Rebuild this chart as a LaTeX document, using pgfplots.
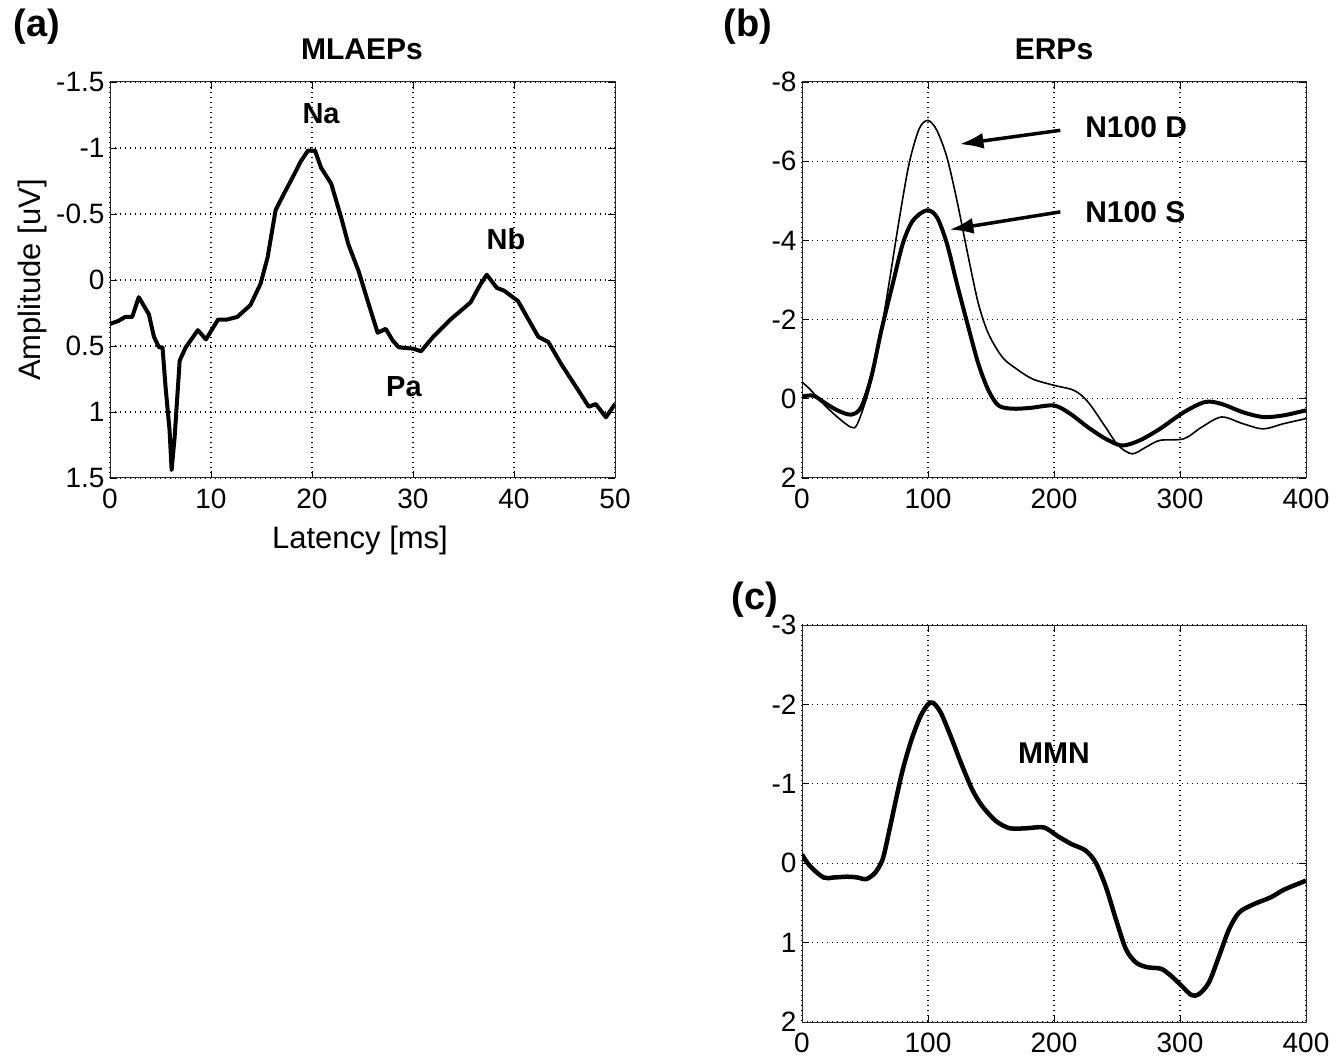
\documentclass[border=0pt]{standalone}
\usepackage{fontspec}
\setmainfont{Liberation Sans}
\usepackage{pgfplots}
\pgfplotsset{compat=1.18}
\usetikzlibrary{arrows.meta}
\pgfplotsset{
  mstyle/.style={
    scale only axis, anchor=south west,
    axis line style={line width=1pt, black!85},
    tick align=inside, tick pos=both,
    major tick length=7pt,
    tick style={line width=0.8pt, black},
    grid=major,
    major grid style={line width=1.1pt, black, dash pattern=on 1.3pt off 3.7pt},
    ticklabel style={font=\fontsize{28}{28}\selectfont},
    xticklabel style={yshift=-7pt},
    yticklabel style={xshift=-2pt},
    /pgf/number format/assume math mode=true,
    y dir=reverse,
    clip=true,
  }
}
\begin{document}
\begin{tikzpicture}[x=1pt,y=1pt]
\useasboundingbox (0,0) rectangle (1341,1059);

% ---------------- (a) ----------------
\begin{axis}[mstyle, at={(110pt,581pt)}, width=505pt, height=396pt,
  xmin=0, xmax=50, ymin=-1.5, ymax=1.5,
  xtick={0,10,20,30,40,50},
  ytick={-1.5,-1,-0.5,0,0.5,1,1.5},
  yticklabels={-1.5,-1,-0.5,0,0.5,1,1.5}]
\addplot[black, line width=4pt, line join=round] coordinates {
(0,0.333)(0.84,0.31)(1.5,0.28)(2.2,0.28)(2.85,0.13)(3.85,0.26)(4.35,0.43)(4.85,0.51)(5.2,0.51)
(5.5,0.81)(5.9,1.14)(6.1,1.44)(6.4,1.19)(6.9,0.61)(7.5,0.51)(8.7,0.38)(9.5,0.45)(10.7,0.30)
(11.55,0.30)(12.6,0.28)(13.9,0.19)(14.9,0.03)(15.6,-0.17)(16.4,-0.53)(17.2,-0.65)(18.1,-0.78)
(18.9,-0.90)(19.6,-0.98)(20.3,-0.98)(20.9,-0.85)(21.9,-0.73)(22.9,-0.47)(23.6,-0.27)(24.6,-0.07)
(25.6,0.18)(26.5,0.40)(27.3,0.37)(28.0,0.46)(28.6,0.51)(30.0,0.52)(30.8,0.54)(32.0,0.43)
(33.7,0.30)(35.7,0.17)(36.7,0.03)(37.3,-0.04)(38.3,0.06)(39.0,0.08)(40.4,0.16)(42.4,0.43)
(43.4,0.47)(44.7,0.64)(46.4,0.84)(47.4,0.96)(48.1,0.94)(49.1,1.04)(50,0.94)
};
\node[font=\bfseries\fontsize{29}{29}\selectfont] at (axis cs:20.9,-1.26) {Na};
\node[font=\bfseries\fontsize{29}{29}\selectfont] at (axis cs:39.2,-0.31) {Nb};
\node[font=\bfseries\fontsize{29}{29}\selectfont] at (axis cs:29.1,0.81) {Pa};
\end{axis}

% ---------------- (b) ----------------
\begin{axis}[mstyle, at={(802pt,581pt)}, width=504pt, height=396pt,
  xmin=0, xmax=400, ymin=-8, ymax=2,
  xtick={0,100,200,300,400},
  ytick={-8,-6,-4,-2,0,2}]
\addplot[black, line width=1.6pt, smooth, tension=0.5] coordinates {
(0,-0.42)(6,-0.25)(17,0.13)(28,0.46)(39,0.72)(44,0.63)(53,-0.21)(61,-1.39)(69,-2.9)(77,-4.5)
(85,-5.94)(93,-6.82)(100,-7.03)(107,-6.78)(115,-6.1)(123,-5.0)(132,-3.58)(140,-2.4)(148,-1.64)
(159,-1.05)(170,-0.76)(183,-0.5)(200,-0.34)(216,-0.21)(227,0.08)(241,0.72)(251,1.18)(262,1.39)
(273,1.22)(284,1.05)(303,1.01)(317,0.72)(333,0.46)(350,0.63)(366,0.76)(382,0.63)(400,0.5)
};
\addplot[black, line width=4pt, smooth, tension=0.5] coordinates {
(0,-0.06)(9,-0.08)(17,0.08)(28,0.29)(39,0.4)(47,0.21)(55,-0.55)(63,-1.73)(72,-2.9)(80,-3.92)
(88,-4.5)(99,-4.76)(107,-4.59)(115,-3.92)(123,-2.9)(132,-1.81)(140,-0.88)(148,-0.21)(156,0.17)
(167,0.25)(181,0.23)(200,0.17)(213,0.38)(227,0.72)(241,1.01)(254,1.18)(268,1.05)(284,0.76)
(303,0.34)(320,0.08)(333,0.13)(350,0.34)(366,0.46)(382,0.42)(400,0.29)
};
\draw[line width=3.5pt, -{Latex[length=24pt,width=16pt]}] (axis cs:205,-6.78) -- (axis cs:125,-6.43);
\draw[line width=3.5pt, -{Latex[length=24pt,width=16pt]}] (axis cs:205,-4.72) -- (axis cs:117,-4.27);
\node[anchor=west, font=\bfseries\fontsize{30}{30}\selectfont] at (axis cs:222,-6.87) {N100 D};
\node[anchor=west, font=\bfseries\fontsize{30}{30}\selectfont] at (axis cs:222,-4.72) {N100 S};
\end{axis}

% ---------------- (c) ----------------
\begin{axis}[mstyle, at={(802pt,37pt)}, width=504pt, height=397pt,
  xmin=0, xmax=400, ymin=-3, ymax=2,
  xtick={0,100,200,300,400},
  ytick={-3,-2,-1,0,1,2}]
\addplot[black, line width=4.5pt, smooth, tension=0.5] coordinates {
(0,-0.11)(6,0.03)(17,0.18)(25,0.18)(36,0.17)(44,0.18)(51,0.2)(58,0.12)(64,-0.05)(69,-0.39)
(74,-0.76)(80,-1.18)(87,-1.56)(94,-1.85)(100,-2.0)(104,-2.02)(110,-1.9)(118,-1.6)(126,-1.27)
(135,-0.93)(143,-0.72)(154,-0.53)(165,-0.44)(178,-0.44)(192,-0.45)(203,-0.34)(214,-0.24)
(225,-0.16)(233,-0.01)(241,0.29)(249,0.7)(257,1.08)(265,1.25)(274,1.31)(285,1.33)(293,1.42)
(301,1.54)(309,1.66)(315,1.65)(323,1.5)(331,1.17)(339,0.83)(347,0.62)(358,0.52)(372,0.43)
(383,0.33)(400,0.22)
};
\node[font=\bfseries\fontsize{30}{30}\selectfont] at (axis cs:200,-1.39) {MMN};
\end{axis}

% ---------------- labels ----------------
\node[font=\bfseries\fontsize{38}{38}\selectfont] at (37,1032) {(a)};
\node[font=\bfseries\fontsize{38}{38}\selectfont] at (748,1032) {(b)};
\node[font=\bfseries\fontsize{38}{38}\selectfont] at (755,459) {(c)};
\node[font=\bfseries\fontsize{30}{30}\selectfont] at (362,1010) {MLAEPs};
\node[font=\bfseries\fontsize{30}{30}\selectfont] at (1054,1010) {ERPs};
\node[font=\fontsize{31}{31}\selectfont] at (360,519) {Latency [ms]};
\node[font=\fontsize{31}{31}\selectfont, rotate=90] at (32,779) {Amplitude [uV]};
\end{tikzpicture}
\end{document}
